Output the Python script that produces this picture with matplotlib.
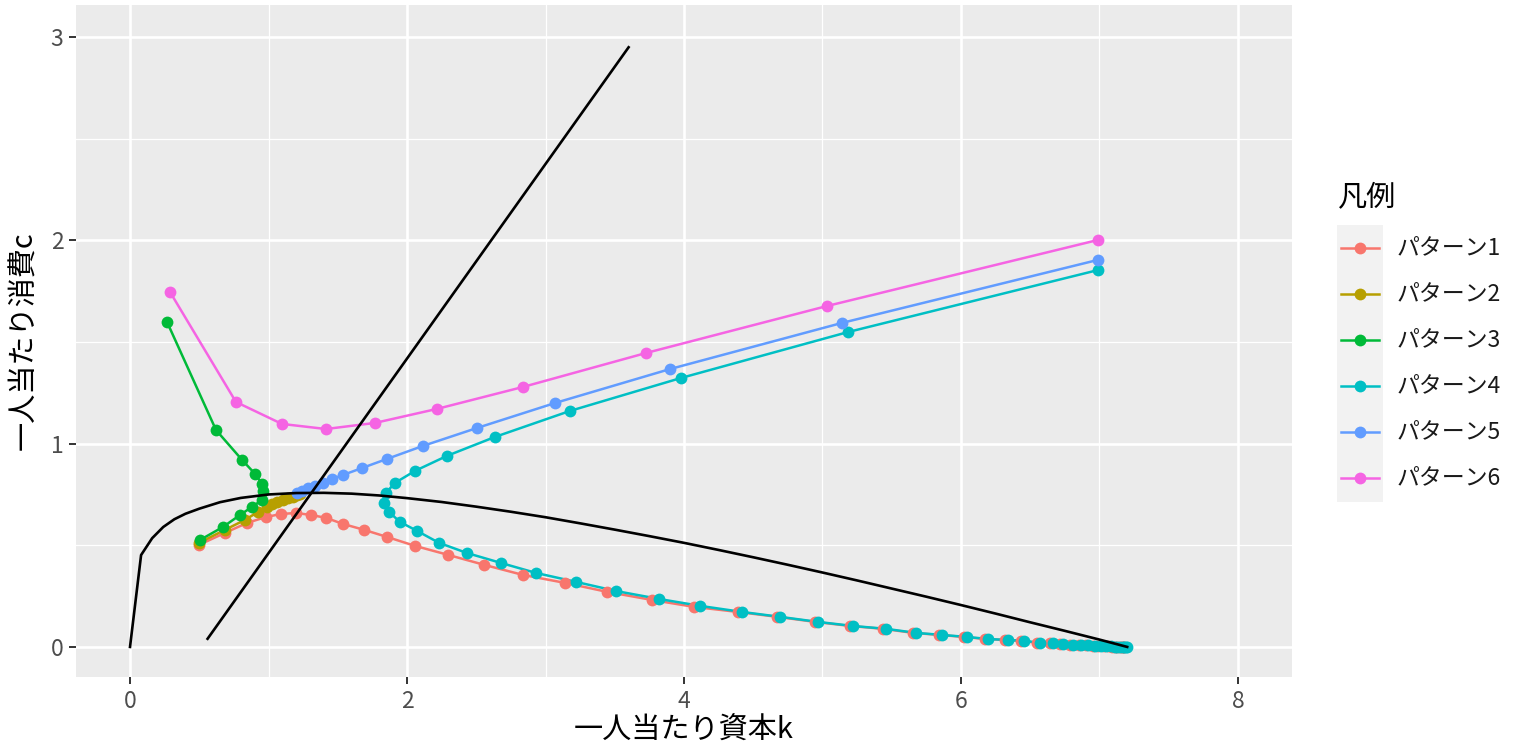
import matplotlib
matplotlib.use("Agg")
import matplotlib.pyplot as plt
from matplotlib.patches import Rectangle
from matplotlib.lines import Line2D

plt.rcParams['font.family'] = ['Noto Sans CJK JP', 'DejaVu Sans']

# 定常状態の曲線 (k, c)
curve_k = [0, 0.08, 0.16, 0.24, 0.32, 0.4, 0.5, 0.65, 0.8, 1.0, 1.2, 1.4,
           1.6, 1.8, 2.0, 2.25, 2.5, 2.75, 3.0, 3.25, 3.5, 3.75, 4.0, 4.25,
           4.5, 4.75, 5.0, 5.25, 5.5, 5.75, 6.0, 6.25, 6.5, 6.75, 7.0, 7.2]
curve_c = [0, 0.452, 0.535, 0.59, 0.628, 0.655, 0.68, 0.712, 0.733, 0.75,
           0.757, 0.758, 0.754, 0.745, 0.732, 0.713, 0.69, 0.665, 0.638,
           0.608, 0.577, 0.545, 0.512, 0.477, 0.441, 0.404, 0.366, 0.327,
           0.287, 0.247, 0.206, 0.164, 0.121, 0.079, 0.036, 0.0]

# 直線
line_k = [0.56, 3.6]
line_c = [0.04, 2.95]

tail_k = [4.693, 4.968, 5.220, 5.458, 5.675, 5.863, 6.043, 6.195, 6.339,
          6.455, 6.570, 6.664, 6.736, 6.809, 6.87, 6.92, 6.97, 7.01, 7.05,
          7.08, 7.11, 7.13, 7.15, 7.17, 7.18, 7.19, 7.20]
tail_c = [0.148, 0.123, 0.103, 0.089, 0.069, 0.059, 0.049, 0.039, 0.034,
          0.030, 0.020, 0.020, 0.015, 0.010, 0.008, 0.007, 0.006, 0.005,
          0.004, 0.003, 0.002, 0.002, 0.001, 0.001, 0.0, 0.0, 0.0]

p1_k = [0.498, 0.686, 0.845, 0.982, 1.090, 1.199, 1.307, 1.415, 1.538, 1.690,
        1.856, 2.058, 2.296, 2.556, 2.838, 3.141, 3.444, 3.769, 4.072, 4.390]
p1_c = [0.502, 0.561, 0.610, 0.639, 0.654, 0.659, 0.649, 0.635, 0.605, 0.576,
        0.541, 0.497, 0.453, 0.404, 0.354, 0.315, 0.271, 0.231, 0.197, 0.172]
p1_k = p1_k + [k - 0.02 for k in tail_k]
p1_c = p1_c + tail_c

p2_k = [0.498, 0.686, 0.830, 0.924, 0.989, 1.025, 1.061, 1.105, 1.141, 1.177,
        1.206, 1.225]
p2_c = [0.512, 0.576, 0.625, 0.664, 0.689, 0.703, 0.713, 0.723, 0.733, 0.738,
        0.748, 0.752]

p3_k = [0.505, 0.671, 0.794, 0.881, 0.953, 0.960, 0.953, 0.903, 0.809, 0.621,
        0.267]
p3_c = [0.526, 0.590, 0.649, 0.689, 0.723, 0.767, 0.802, 0.851, 0.920, 1.067,
        1.599]

p4_k = [6.989, 5.184, 3.978, 3.177, 2.635, 2.289, 2.058, 1.913, 1.848, 1.834,
        1.870, 1.949, 2.072, 2.231, 2.433, 2.679, 2.931, 3.220, 3.509, 3.819,
        4.116, 4.419]
p4_c = [1.854, 1.549, 1.323, 1.161, 1.033, 0.940, 0.866, 0.807, 0.758, 0.708,
        0.664, 0.615, 0.571, 0.512, 0.462, 0.413, 0.364, 0.320, 0.275, 0.236,
        0.202, 0.172]
p4_k = p4_k + tail_k
p4_c = p4_c + tail_c

p5_k = [6.989, 5.141, 3.899, 3.069, 2.505, 2.116, 1.856, 1.675, 1.538, 1.458,
        1.394, 1.336, 1.285, 1.242, 1.206]
p5_c = [1.904, 1.594, 1.367, 1.200, 1.077, 0.989, 0.925, 0.880, 0.846, 0.826,
        0.807, 0.792, 0.782, 0.767, 0.758]

p6_k = [0.289, 0.765, 1.097, 1.415, 1.769, 2.217, 2.838, 3.726, 5.032, 6.989]
p6_c = [1.746, 1.205, 1.097, 1.072, 1.102, 1.171, 1.279, 1.446, 1.677, 2.002]

labels = ['パターン1', 'パターン2', 'パターン3', 'パターン4', 'パターン5', 'パターン6']
colors = ['#F8766D', '#B79F00', '#00BA38', '#00BFC4', '#619CFF', '#F564E3']
series = [(p1_k, p1_c), (p2_k, p2_c), (p3_k, p3_c),
          (p4_k, p4_c), (p5_k, p5_c), (p6_k, p6_c)]

W, H = 1524, 748
fig = plt.figure(figsize=(W / 100, H / 100), dpi=100)
ax = fig.add_axes([76 / W, 1 - 677 / H, (1292 - 76) / W, (677 - 5) / H])
ax.set_facecolor('#EBEBEB')

for (k, c), col in zip(series, colors):
    ax.plot(k, c, color=col, lw=1.8, zorder=3)
for (k, c), col in zip(series, colors):
    ax.plot(k, c, 'o', color=col, ms=8.5, mec='none', zorder=4)

ax.plot(curve_k, curve_c, color='black', lw=1.9, zorder=5)
ax.plot(line_k, line_c, color='black', lw=1.9, zorder=5)

ax.set_xlim(-0.39, 8.39)
ax.set_ylim(-0.148, 3.158)
ax.set_xticks([0, 2, 4, 6, 8])
ax.set_yticks([0, 1, 2, 3])
ax.set_xticks([1, 3, 5, 7], minor=True)
ax.set_yticks([0.5, 1.5, 2.5], minor=True)
ax.grid(which='major', color='white', lw=1.9)
ax.grid(which='minor', color='white', lw=0.9)
ax.set_axisbelow(True)
for s in ax.spines.values():
    s.set_visible(False)
ax.tick_params(which='major', length=5, width=1.4, color='#333333',
               labelsize=16.5, labelcolor='#4D4D4D', pad=4)
ax.tick_params(which='minor', length=0)

ax.set_xlabel('一人当たり資本k', fontsize=21, labelpad=2)
ax.set_ylabel('一人当たり消費c', fontsize=21, labelpad=8)

# 凡例
lax = fig.add_axes([0, 0, 1, 1])
lax.set_xlim(0, W)
lax.set_ylim(H, 0)
lax.axis('off')
lax.text(1338, 198, '凡例', fontsize=21, va='center', ha='left')
lax.add_patch(Rectangle((1337, 225), 46, 277, facecolor='#F2F2F2', edgecolor='none'))
for i, (lab, col) in enumerate(zip(labels, colors)):
    y = 248 + 46 * i
    lax.add_line(Line2D([1341, 1379], [y, y], color=col, lw=1.8))
    lax.plot([1360], [y], 'o', color=col, ms=8.5, mec='none')
    lax.text(1397, y, lab, fontsize=16.5, va='center', ha='left', color='#1A1A1A')

fig.savefig('out.png', dpi=100)
